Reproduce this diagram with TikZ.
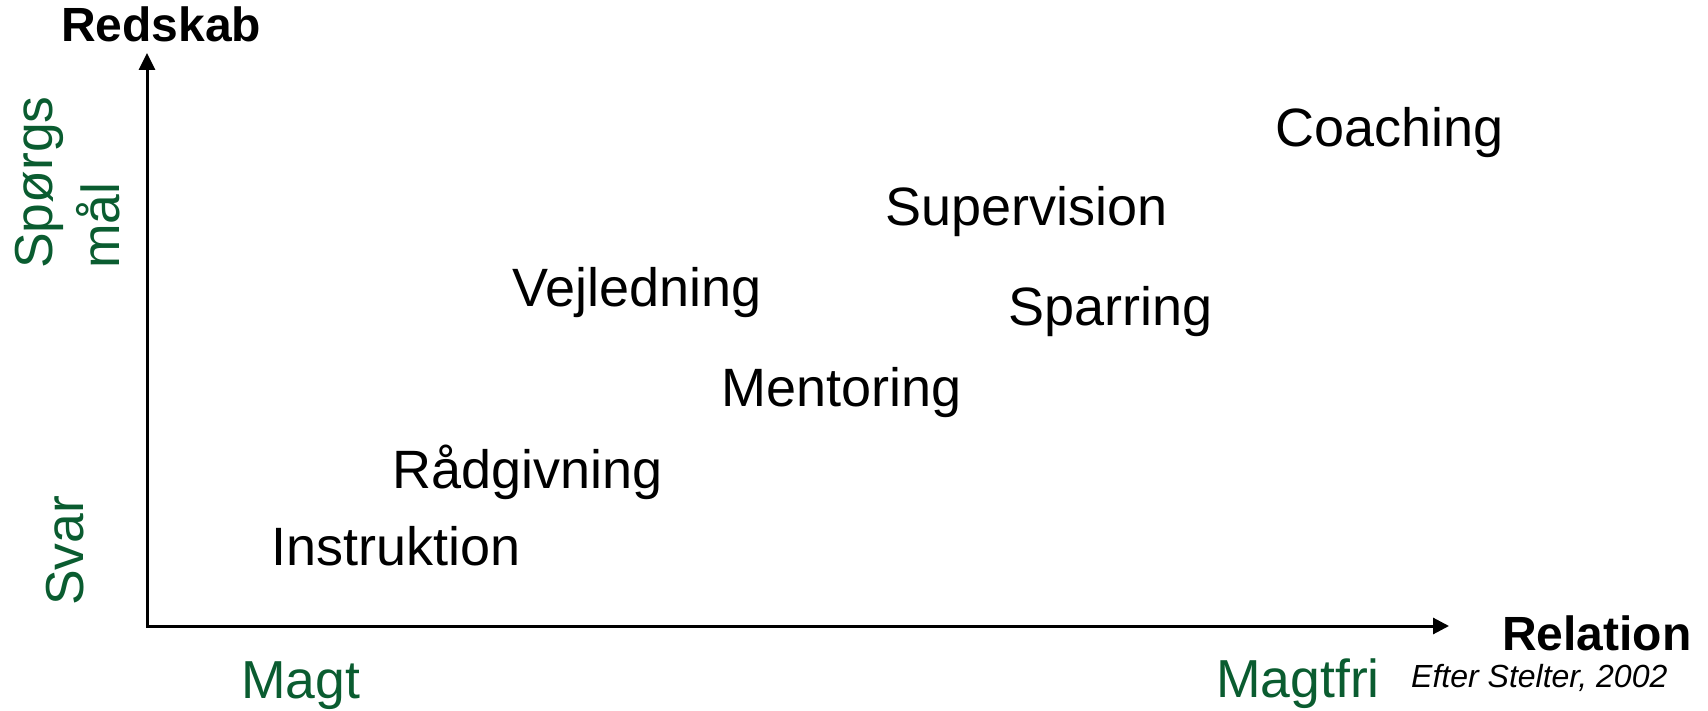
\documentclass[tikz,border=0pt]{standalone}
\usepackage{fontspec}
\setmainfont{Liberation Sans}
\usetikzlibrary{arrows.meta}
\definecolor{polegreen}{RGB}{10,92,48}
\begin{document}
\begin{tikzpicture}[x=1pt,y=-1pt,
  item/.style={anchor=base west, inner sep=0pt, font=\fontsize{54}{62}\selectfont},
  axislabel/.style={anchor=base west, inner sep=0pt, font=\bfseries\fontsize{48}{56}\selectfont},
  pole/.style={anchor=base west, inner sep=0pt, text=polegreen, font=\fontsize{53.5}{62}\selectfont},
  vpole/.style={anchor=north west, inner sep=0pt, rotate=90, text=polegreen, align=left, font=\fontsize{53.5}{67}\selectfont},
  source/.style={anchor=base west, inner sep=0pt, font=\itshape\fontsize{32}{38}\selectfont},
  axisline/.style={line width=3pt, line join=miter, {Triangle[length=17pt,width=16pt]}-{Triangle[length=16pt,width=16pt]}}]
\useasboundingbox (0,0) rectangle (1708,711);

% axes
\coordinate (ytip) at (147,53);
\coordinate (xtip) at (1449,626);
\draw[axisline] (ytip) |- (xtip);

% axis titles
\node[axislabel] (redskab) at (61,42) {Redskab};
\node[axislabel] (relation) at (1502,650) {Relation};

% poles of the axes
\node[vpole] (spm) at (15,269) {Spørgs\\mål};
\node[vpole] (svar) at (46,606) {Svar};
\node[pole] (magt) at (241,698) {Magt};
\node[pole] (magtfri) at (1216,697) {Magtfri};

% forms of conversation
\node[item] (coaching) at (1275,147) {Coaching};
\node[item] (supervision) at (885,226) {Supervision};
\node[item] (vejledning) at (512,306) {Vejledning};
\node[item] (sparring) at (1008,326) {Sparring};
\node[item] (mentoring) at (721,406) {Mentoring};
\node[item] (raadgivning) at (392,488) {Rådgivning};
\node[item] (instruktion) at (271,565) {Instruktion};

% source
\node[source] (kilde) at (1411,687) {Efter Stelter, 2002};
\end{tikzpicture}
\end{document}
